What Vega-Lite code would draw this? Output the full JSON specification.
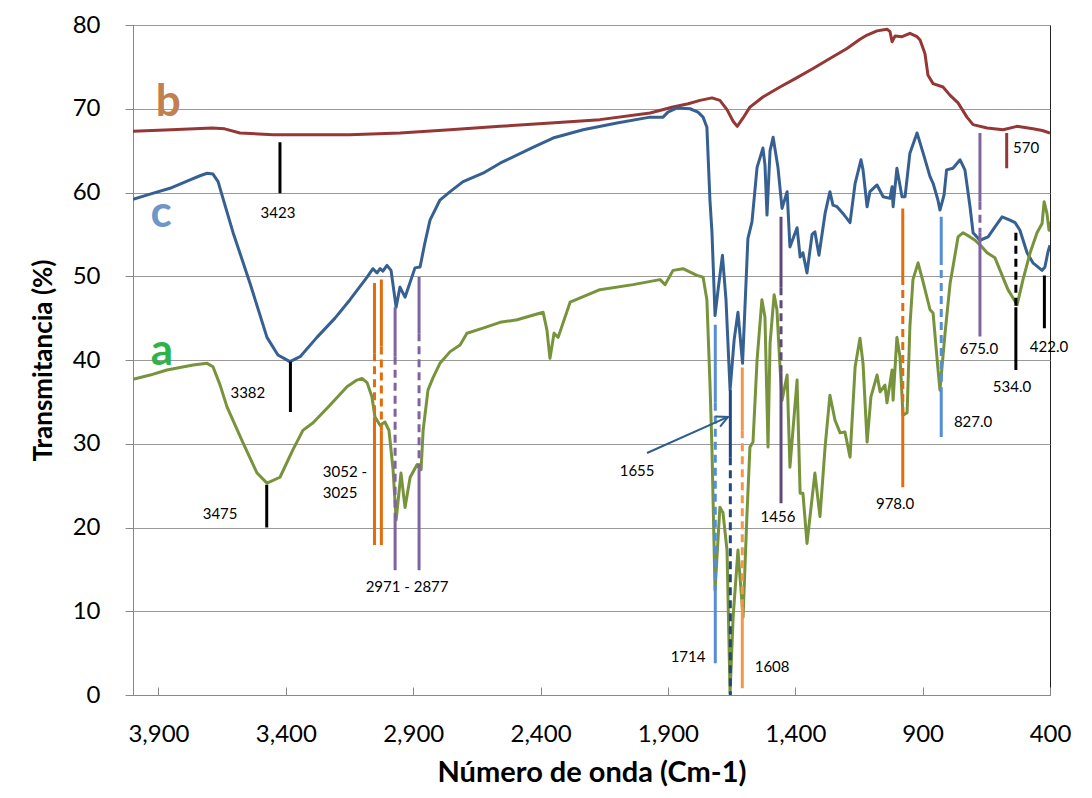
{
  "$schema": "https://vega.github.io/schema/vega-lite/v6.json",
  "width": 917,
  "height": 670,
  "autosize": {"type": "none"},
  "padding": {"left": 133, "top": 25, "right": 42, "bottom": 103},
  "background": "white",
  "config": {
    "font": "Lato",
    "view": {"stroke": "#222222", "strokeWidth": 1}
  },
  "datasets": {
    "espectros": [
      {"serie": "b", "numero_onda": 4000, "transmitancia": 67.3},
      {"serie": "b", "numero_onda": 3850, "transmitancia": 67.5},
      {"serie": "b", "numero_onda": 3690, "transmitancia": 67.7},
      {"serie": "b", "numero_onda": 3640, "transmitancia": 67.6},
      {"serie": "b", "numero_onda": 3580, "transmitancia": 67.1},
      {"serie": "b", "numero_onda": 3450, "transmitancia": 66.9},
      {"serie": "b", "numero_onda": 3150, "transmitancia": 66.9},
      {"serie": "b", "numero_onda": 2952, "transmitancia": 67.1},
      {"serie": "b", "numero_onda": 2755, "transmitancia": 67.5},
      {"serie": "b", "numero_onda": 2559, "transmitancia": 67.9},
      {"serie": "b", "numero_onda": 2360, "transmitancia": 68.3},
      {"serie": "b", "numero_onda": 2167, "transmitancia": 68.7},
      {"serie": "b", "numero_onda": 1970, "transmitancia": 69.5},
      {"serie": "b", "numero_onda": 1880, "transmitancia": 70.2},
      {"serie": "b", "numero_onda": 1820, "transmitancia": 70.6},
      {"serie": "b", "numero_onda": 1774, "transmitancia": 71.0},
      {"serie": "b", "numero_onda": 1727, "transmitancia": 71.3},
      {"serie": "b", "numero_onda": 1696, "transmitancia": 71.0},
      {"serie": "b", "numero_onda": 1668, "transmitancia": 69.9},
      {"serie": "b", "numero_onda": 1644, "transmitancia": 68.5},
      {"serie": "b", "numero_onda": 1628, "transmitancia": 67.9},
      {"serie": "b", "numero_onda": 1605, "transmitancia": 68.9},
      {"serie": "b", "numero_onda": 1578, "transmitancia": 70.2},
      {"serie": "b", "numero_onda": 1527, "transmitancia": 71.4},
      {"serie": "b", "numero_onda": 1460, "transmitancia": 72.6},
      {"serie": "b", "numero_onda": 1400, "transmitancia": 73.6},
      {"serie": "b", "numero_onda": 1330, "transmitancia": 74.8},
      {"serie": "b", "numero_onda": 1264, "transmitancia": 76.0},
      {"serie": "b", "numero_onda": 1197, "transmitancia": 77.2},
      {"serie": "b", "numero_onda": 1146, "transmitancia": 78.3},
      {"serie": "b", "numero_onda": 1118, "transmitancia": 78.8},
      {"serie": "b", "numero_onda": 1079, "transmitancia": 79.3},
      {"serie": "b", "numero_onda": 1040, "transmitancia": 79.5},
      {"serie": "b", "numero_onda": 1028, "transmitancia": 79.2},
      {"serie": "b", "numero_onda": 1020, "transmitancia": 78.0},
      {"serie": "b", "numero_onda": 1008, "transmitancia": 78.7},
      {"serie": "b", "numero_onda": 981, "transmitancia": 78.6},
      {"serie": "b", "numero_onda": 950, "transmitancia": 79.0},
      {"serie": "b", "numero_onda": 922, "transmitancia": 78.6},
      {"serie": "b", "numero_onda": 910, "transmitancia": 78.2},
      {"serie": "b", "numero_onda": 891, "transmitancia": 76.6},
      {"serie": "b", "numero_onda": 879, "transmitancia": 74.0},
      {"serie": "b", "numero_onda": 859, "transmitancia": 73.0},
      {"serie": "b", "numero_onda": 820, "transmitancia": 72.6},
      {"serie": "b", "numero_onda": 792, "transmitancia": 71.6},
      {"serie": "b", "numero_onda": 761, "transmitancia": 70.7},
      {"serie": "b", "numero_onda": 726, "transmitancia": 69.0},
      {"serie": "b", "numero_onda": 702, "transmitancia": 68.1},
      {"serie": "b", "numero_onda": 647, "transmitancia": 67.7},
      {"serie": "b", "numero_onda": 584, "transmitancia": 67.5},
      {"serie": "b", "numero_onda": 530, "transmitancia": 67.9},
      {"serie": "b", "numero_onda": 467, "transmitancia": 67.6},
      {"serie": "b", "numero_onda": 430, "transmitancia": 67.4},
      {"serie": "b", "numero_onda": 400, "transmitancia": 67.1},

      {"serie": "c", "numero_onda": 4000, "transmitancia": 59.2},
      {"serie": "c", "numero_onda": 3933, "transmitancia": 59.8},
      {"serie": "c", "numero_onda": 3855, "transmitancia": 60.5},
      {"serie": "c", "numero_onda": 3776, "transmitancia": 61.5},
      {"serie": "c", "numero_onda": 3737, "transmitancia": 62.0},
      {"serie": "c", "numero_onda": 3709, "transmitancia": 62.3},
      {"serie": "c", "numero_onda": 3686, "transmitancia": 62.2},
      {"serie": "c", "numero_onda": 3666, "transmitancia": 61.3},
      {"serie": "c", "numero_onda": 3639, "transmitancia": 58.5},
      {"serie": "c", "numero_onda": 3607, "transmitancia": 55.2},
      {"serie": "c", "numero_onda": 3541, "transmitancia": 49.2},
      {"serie": "c", "numero_onda": 3474, "transmitancia": 42.7},
      {"serie": "c", "numero_onda": 3431, "transmitancia": 40.6},
      {"serie": "c", "numero_onda": 3384, "transmitancia": 39.8},
      {"serie": "c", "numero_onda": 3344, "transmitancia": 40.4},
      {"serie": "c", "numero_onda": 3278, "transmitancia": 42.7},
      {"serie": "c", "numero_onda": 3207, "transmitancia": 45.0},
      {"serie": "c", "numero_onda": 3148, "transmitancia": 47.2},
      {"serie": "c", "numero_onda": 3081, "transmitancia": 49.9},
      {"serie": "c", "numero_onda": 3058, "transmitancia": 50.9},
      {"serie": "c", "numero_onda": 3042, "transmitancia": 50.4},
      {"serie": "c", "numero_onda": 3030, "transmitancia": 50.9},
      {"serie": "c", "numero_onda": 3019, "transmitancia": 50.6},
      {"serie": "c", "numero_onda": 3003, "transmitancia": 51.3},
      {"serie": "c", "numero_onda": 2987, "transmitancia": 50.7},
      {"serie": "c", "numero_onda": 2967, "transmitancia": 46.3},
      {"serie": "c", "numero_onda": 2952, "transmitancia": 48.7},
      {"serie": "c", "numero_onda": 2932, "transmitancia": 47.5},
      {"serie": "c", "numero_onda": 2893, "transmitancia": 51.0},
      {"serie": "c", "numero_onda": 2873, "transmitancia": 51.1},
      {"serie": "c", "numero_onda": 2854, "transmitancia": 54.0},
      {"serie": "c", "numero_onda": 2834, "transmitancia": 56.7},
      {"serie": "c", "numero_onda": 2795, "transmitancia": 59.1},
      {"serie": "c", "numero_onda": 2755, "transmitancia": 60.1},
      {"serie": "c", "numero_onda": 2704, "transmitancia": 61.3},
      {"serie": "c", "numero_onda": 2626, "transmitancia": 62.3},
      {"serie": "c", "numero_onda": 2559, "transmitancia": 63.5},
      {"serie": "c", "numero_onda": 2430, "transmitancia": 65.4},
      {"serie": "c", "numero_onda": 2351, "transmitancia": 66.5},
      {"serie": "c", "numero_onda": 2233, "transmitancia": 67.5},
      {"serie": "c", "numero_onda": 2100, "transmitancia": 68.3},
      {"serie": "c", "numero_onda": 1970, "transmitancia": 69.0},
      {"serie": "c", "numero_onda": 1919, "transmitancia": 69.0},
      {"serie": "c", "numero_onda": 1900, "transmitancia": 69.6},
      {"serie": "c", "numero_onda": 1864, "transmitancia": 70.1},
      {"serie": "c", "numero_onda": 1813, "transmitancia": 70.0},
      {"serie": "c", "numero_onda": 1782, "transmitancia": 69.6},
      {"serie": "c", "numero_onda": 1762, "transmitancia": 69.0},
      {"serie": "c", "numero_onda": 1747, "transmitancia": 67.8},
      {"serie": "c", "numero_onda": 1735, "transmitancia": 59.1},
      {"serie": "c", "numero_onda": 1727, "transmitancia": 55.2},
      {"serie": "c", "numero_onda": 1715, "transmitancia": 45.3},
      {"serie": "c", "numero_onda": 1703, "transmitancia": 48.4},
      {"serie": "c", "numero_onda": 1686, "transmitancia": 52.5},
      {"serie": "c", "numero_onda": 1672, "transmitancia": 47.2},
      {"serie": "c", "numero_onda": 1656, "transmitancia": 36.4},
      {"serie": "c", "numero_onda": 1640, "transmitancia": 42.4},
      {"serie": "c", "numero_onda": 1625, "transmitancia": 45.7},
      {"serie": "c", "numero_onda": 1607, "transmitancia": 39.6},
      {"serie": "c", "numero_onda": 1586, "transmitancia": 54.5},
      {"serie": "c", "numero_onda": 1570, "transmitancia": 56.5},
      {"serie": "c", "numero_onda": 1550, "transmitancia": 63.0},
      {"serie": "c", "numero_onda": 1527, "transmitancia": 65.3},
      {"serie": "c", "numero_onda": 1519, "transmitancia": 63.3},
      {"serie": "c", "numero_onda": 1511, "transmitancia": 57.3},
      {"serie": "c", "numero_onda": 1499, "transmitancia": 65.0},
      {"serie": "c", "numero_onda": 1487, "transmitancia": 66.6},
      {"serie": "c", "numero_onda": 1468, "transmitancia": 63.0},
      {"serie": "c", "numero_onda": 1452, "transmitancia": 58.1},
      {"serie": "c", "numero_onda": 1432, "transmitancia": 60.1},
      {"serie": "c", "numero_onda": 1421, "transmitancia": 53.5},
      {"serie": "c", "numero_onda": 1393, "transmitancia": 55.8},
      {"serie": "c", "numero_onda": 1381, "transmitancia": 52.3},
      {"serie": "c", "numero_onda": 1370, "transmitancia": 52.8},
      {"serie": "c", "numero_onda": 1354, "transmitancia": 50.4},
      {"serie": "c", "numero_onda": 1334, "transmitancia": 55.0},
      {"serie": "c", "numero_onda": 1323, "transmitancia": 55.3},
      {"serie": "c", "numero_onda": 1307, "transmitancia": 52.5},
      {"serie": "c", "numero_onda": 1283, "transmitancia": 57.5},
      {"serie": "c", "numero_onda": 1264, "transmitancia": 60.1},
      {"serie": "c", "numero_onda": 1252, "transmitancia": 58.5},
      {"serie": "c", "numero_onda": 1236, "transmitancia": 58.3},
      {"serie": "c", "numero_onda": 1213, "transmitancia": 57.5},
      {"serie": "c", "numero_onda": 1185, "transmitancia": 56.4},
      {"serie": "c", "numero_onda": 1165, "transmitancia": 61.1},
      {"serie": "c", "numero_onda": 1142, "transmitancia": 63.9},
      {"serie": "c", "numero_onda": 1134, "transmitancia": 62.7},
      {"serie": "c", "numero_onda": 1118, "transmitancia": 58.3},
      {"serie": "c", "numero_onda": 1107, "transmitancia": 60.1},
      {"serie": "c", "numero_onda": 1079, "transmitancia": 60.9},
      {"serie": "c", "numero_onda": 1055, "transmitancia": 59.5},
      {"serie": "c", "numero_onda": 1028, "transmitancia": 59.3},
      {"serie": "c", "numero_onda": 1020, "transmitancia": 60.7},
      {"serie": "c", "numero_onda": 1016, "transmitancia": 58.3},
      {"serie": "c", "numero_onda": 1001, "transmitancia": 62.9},
      {"serie": "c", "numero_onda": 981, "transmitancia": 59.5},
      {"serie": "c", "numero_onda": 969, "transmitancia": 59.5},
      {"serie": "c", "numero_onda": 950, "transmitancia": 64.7},
      {"serie": "c", "numero_onda": 922, "transmitancia": 67.1},
      {"serie": "c", "numero_onda": 898, "transmitancia": 64.7},
      {"serie": "c", "numero_onda": 871, "transmitancia": 61.9},
      {"serie": "c", "numero_onda": 859, "transmitancia": 61.1},
      {"serie": "c", "numero_onda": 840, "transmitancia": 59.1},
      {"serie": "c", "numero_onda": 832, "transmitancia": 57.9},
      {"serie": "c", "numero_onda": 816, "transmitancia": 59.7},
      {"serie": "c", "numero_onda": 806, "transmitancia": 62.7},
      {"serie": "c", "numero_onda": 781, "transmitancia": 62.9},
      {"serie": "c", "numero_onda": 753, "transmitancia": 63.9},
      {"serie": "c", "numero_onda": 734, "transmitancia": 62.7},
      {"serie": "c", "numero_onda": 714, "transmitancia": 58.3},
      {"serie": "c", "numero_onda": 702, "transmitancia": 55.2},
      {"serie": "c", "numero_onda": 675, "transmitancia": 54.3},
      {"serie": "c", "numero_onda": 643, "transmitancia": 54.7},
      {"serie": "c", "numero_onda": 616, "transmitancia": 55.9},
      {"serie": "c", "numero_onda": 588, "transmitancia": 57.1},
      {"serie": "c", "numero_onda": 557, "transmitancia": 56.7},
      {"serie": "c", "numero_onda": 537, "transmitancia": 56.4},
      {"serie": "c", "numero_onda": 518, "transmitancia": 55.5},
      {"serie": "c", "numero_onda": 490, "transmitancia": 52.8},
      {"serie": "c", "numero_onda": 467, "transmitancia": 51.6},
      {"serie": "c", "numero_onda": 431, "transmitancia": 50.7},
      {"serie": "c", "numero_onda": 420, "transmitancia": 51.1},
      {"serie": "c", "numero_onda": 408, "transmitancia": 52.9},
      {"serie": "c", "numero_onda": 400, "transmitancia": 53.7},

      {"serie": "a", "numero_onda": 4000, "transmitancia": 37.7},
      {"serie": "a", "numero_onda": 3933, "transmitancia": 38.2},
      {"serie": "a", "numero_onda": 3867, "transmitancia": 38.8},
      {"serie": "a", "numero_onda": 3764, "transmitancia": 39.4},
      {"serie": "a", "numero_onda": 3709, "transmitancia": 39.6},
      {"serie": "a", "numero_onda": 3686, "transmitancia": 39.2},
      {"serie": "a", "numero_onda": 3658, "transmitancia": 37.0},
      {"serie": "a", "numero_onda": 3631, "transmitancia": 34.4},
      {"serie": "a", "numero_onda": 3568, "transmitancia": 30.1},
      {"serie": "a", "numero_onda": 3513, "transmitancia": 26.5},
      {"serie": "a", "numero_onda": 3474, "transmitancia": 25.3},
      {"serie": "a", "numero_onda": 3423, "transmitancia": 26.0},
      {"serie": "a", "numero_onda": 3372, "transmitancia": 29.3},
      {"serie": "a", "numero_onda": 3333, "transmitancia": 31.6},
      {"serie": "a", "numero_onda": 3293, "transmitancia": 32.5},
      {"serie": "a", "numero_onda": 3227, "transmitancia": 34.6},
      {"serie": "a", "numero_onda": 3160, "transmitancia": 36.8},
      {"serie": "a", "numero_onda": 3121, "transmitancia": 37.6},
      {"serie": "a", "numero_onda": 3101, "transmitancia": 37.8},
      {"serie": "a", "numero_onda": 3081, "transmitancia": 37.3},
      {"serie": "a", "numero_onda": 3062, "transmitancia": 35.6},
      {"serie": "a", "numero_onda": 3050, "transmitancia": 33.2},
      {"serie": "a", "numero_onda": 3030, "transmitancia": 32.2},
      {"serie": "a", "numero_onda": 3011, "transmitancia": 32.6},
      {"serie": "a", "numero_onda": 2995, "transmitancia": 31.6},
      {"serie": "a", "numero_onda": 2979, "transmitancia": 26.9},
      {"serie": "a", "numero_onda": 2967, "transmitancia": 20.9},
      {"serie": "a", "numero_onda": 2948, "transmitancia": 26.5},
      {"serie": "a", "numero_onda": 2932, "transmitancia": 22.4},
      {"serie": "a", "numero_onda": 2912, "transmitancia": 26.0},
      {"serie": "a", "numero_onda": 2885, "transmitancia": 27.5},
      {"serie": "a", "numero_onda": 2869, "transmitancia": 26.9},
      {"serie": "a", "numero_onda": 2861, "transmitancia": 31.6},
      {"serie": "a", "numero_onda": 2842, "transmitancia": 36.4},
      {"serie": "a", "numero_onda": 2822, "transmitancia": 37.9},
      {"serie": "a", "numero_onda": 2795, "transmitancia": 39.6},
      {"serie": "a", "numero_onda": 2755, "transmitancia": 41.0},
      {"serie": "a", "numero_onda": 2716, "transmitancia": 41.8},
      {"serie": "a", "numero_onda": 2689, "transmitancia": 43.2},
      {"serie": "a", "numero_onda": 2626, "transmitancia": 43.8},
      {"serie": "a", "numero_onda": 2559, "transmitancia": 44.5},
      {"serie": "a", "numero_onda": 2492, "transmitancia": 44.8},
      {"serie": "a", "numero_onda": 2390, "transmitancia": 45.7},
      {"serie": "a", "numero_onda": 2375, "transmitancia": 43.6},
      {"serie": "a", "numero_onda": 2363, "transmitancia": 40.2},
      {"serie": "a", "numero_onda": 2347, "transmitancia": 43.2},
      {"serie": "a", "numero_onda": 2331, "transmitancia": 42.7},
      {"serie": "a", "numero_onda": 2284, "transmitancia": 46.9},
      {"serie": "a", "numero_onda": 2167, "transmitancia": 48.4},
      {"serie": "a", "numero_onda": 2037, "transmitancia": 49.0},
      {"serie": "a", "numero_onda": 1931, "transmitancia": 49.6},
      {"serie": "a", "numero_onda": 1911, "transmitancia": 49.0},
      {"serie": "a", "numero_onda": 1880, "transmitancia": 50.7},
      {"serie": "a", "numero_onda": 1841, "transmitancia": 50.9},
      {"serie": "a", "numero_onda": 1786, "transmitancia": 50.1},
      {"serie": "a", "numero_onda": 1762, "transmitancia": 49.9},
      {"serie": "a", "numero_onda": 1747, "transmitancia": 47.2},
      {"serie": "a", "numero_onda": 1735, "transmitancia": 37.3},
      {"serie": "a", "numero_onda": 1727, "transmitancia": 29.3},
      {"serie": "a", "numero_onda": 1715, "transmitancia": 12.5},
      {"serie": "a", "numero_onda": 1696, "transmitancia": 22.4},
      {"serie": "a", "numero_onda": 1684, "transmitancia": 21.8},
      {"serie": "a", "numero_onda": 1668, "transmitancia": 17.3},
      {"serie": "a", "numero_onda": 1656, "transmitancia": 0.2},
      {"serie": "a", "numero_onda": 1644, "transmitancia": 9.3},
      {"serie": "a", "numero_onda": 1625, "transmitancia": 17.3},
      {"serie": "a", "numero_onda": 1605, "transmitancia": 9.3},
      {"serie": "a", "numero_onda": 1590, "transmitancia": 21.3},
      {"serie": "a", "numero_onda": 1578, "transmitancia": 29.6},
      {"serie": "a", "numero_onda": 1566, "transmitancia": 30.2},
      {"serie": "a", "numero_onda": 1550, "transmitancia": 40.0},
      {"serie": "a", "numero_onda": 1531, "transmitancia": 47.2},
      {"serie": "a", "numero_onda": 1519, "transmitancia": 45.1},
      {"serie": "a", "numero_onda": 1507, "transmitancia": 29.6},
      {"serie": "a", "numero_onda": 1499, "transmitancia": 42.0},
      {"serie": "a", "numero_onda": 1483, "transmitancia": 47.8},
      {"serie": "a", "numero_onda": 1472, "transmitancia": 46.0},
      {"serie": "a", "numero_onda": 1460, "transmitancia": 39.2},
      {"serie": "a", "numero_onda": 1452, "transmitancia": 35.2},
      {"serie": "a", "numero_onda": 1432, "transmitancia": 38.2},
      {"serie": "a", "numero_onda": 1421, "transmitancia": 27.2},
      {"serie": "a", "numero_onda": 1393, "transmitancia": 37.6},
      {"serie": "a", "numero_onda": 1381, "transmitancia": 24.1},
      {"serie": "a", "numero_onda": 1370, "transmitancia": 24.1},
      {"serie": "a", "numero_onda": 1354, "transmitancia": 18.1},
      {"serie": "a", "numero_onda": 1323, "transmitancia": 26.5},
      {"serie": "a", "numero_onda": 1303, "transmitancia": 21.3},
      {"serie": "a", "numero_onda": 1283, "transmitancia": 29.6},
      {"serie": "a", "numero_onda": 1264, "transmitancia": 35.8},
      {"serie": "a", "numero_onda": 1244, "transmitancia": 32.8},
      {"serie": "a", "numero_onda": 1224, "transmitancia": 31.3},
      {"serie": "a", "numero_onda": 1205, "transmitancia": 31.4},
      {"serie": "a", "numero_onda": 1185, "transmitancia": 28.4},
      {"serie": "a", "numero_onda": 1165, "transmitancia": 39.2},
      {"serie": "a", "numero_onda": 1146, "transmitancia": 42.6},
      {"serie": "a", "numero_onda": 1134, "transmitancia": 39.6},
      {"serie": "a", "numero_onda": 1118, "transmitancia": 30.2},
      {"serie": "a", "numero_onda": 1103, "transmitancia": 35.6},
      {"serie": "a", "numero_onda": 1079, "transmitancia": 38.2},
      {"serie": "a", "numero_onda": 1067, "transmitancia": 36.2},
      {"serie": "a", "numero_onda": 1048, "transmitancia": 37.0},
      {"serie": "a", "numero_onda": 1040, "transmitancia": 34.9},
      {"serie": "a", "numero_onda": 1020, "transmitancia": 38.8},
      {"serie": "a", "numero_onda": 1016, "transmitancia": 35.2},
      {"serie": "a", "numero_onda": 1001, "transmitancia": 42.7},
      {"serie": "a", "numero_onda": 989, "transmitancia": 40.4},
      {"serie": "a", "numero_onda": 977, "transmitancia": 33.4},
      {"serie": "a", "numero_onda": 961, "transmitancia": 33.7},
      {"serie": "a", "numero_onda": 950, "transmitancia": 44.0},
      {"serie": "a", "numero_onda": 938, "transmitancia": 49.6},
      {"serie": "a", "numero_onda": 918, "transmitancia": 51.6},
      {"serie": "a", "numero_onda": 898, "transmitancia": 49.3},
      {"serie": "a", "numero_onda": 871, "transmitancia": 46.0},
      {"serie": "a", "numero_onda": 859, "transmitancia": 45.6},
      {"serie": "a", "numero_onda": 840, "transmitancia": 39.0},
      {"serie": "a", "numero_onda": 832, "transmitancia": 36.4},
      {"serie": "a", "numero_onda": 812, "transmitancia": 43.2},
      {"serie": "a", "numero_onda": 792, "transmitancia": 49.2},
      {"serie": "a", "numero_onda": 781, "transmitancia": 51.1},
      {"serie": "a", "numero_onda": 761, "transmitancia": 54.7},
      {"serie": "a", "numero_onda": 741, "transmitancia": 55.2},
      {"serie": "a", "numero_onda": 714, "transmitancia": 54.7},
      {"serie": "a", "numero_onda": 694, "transmitancia": 54.3},
      {"serie": "a", "numero_onda": 667, "transmitancia": 53.5},
      {"serie": "a", "numero_onda": 647, "transmitancia": 52.8},
      {"serie": "a", "numero_onda": 616, "transmitancia": 52.2},
      {"serie": "a", "numero_onda": 596, "transmitancia": 50.7},
      {"serie": "a", "numero_onda": 565, "transmitancia": 48.4},
      {"serie": "a", "numero_onda": 529, "transmitancia": 46.6},
      {"serie": "a", "numero_onda": 506, "transmitancia": 49.6},
      {"serie": "a", "numero_onda": 478, "transmitancia": 52.8},
      {"serie": "a", "numero_onda": 451, "transmitancia": 55.2},
      {"serie": "a", "numero_onda": 431, "transmitancia": 56.3},
      {"serie": "a", "numero_onda": 423, "transmitancia": 58.9},
      {"serie": "a", "numero_onda": 412, "transmitancia": 57.5},
      {"serie": "a", "numero_onda": 404, "transmitancia": 55.5},
      {"serie": "a", "numero_onda": 400, "transmitancia": 56.5}
    ],
    "marcas": [
      {"banda": 3423, "desde": 66.0, "hasta": 59.9, "grupo": "negro", "trazo": "continuo"},
      {"banda": 3382, "desde": 39.8, "hasta": 33.8, "grupo": "negro", "trazo": "continuo"},
      {"banda": 3475, "desde": 25.1, "hasta": 20.0, "grupo": "negro", "trazo": "continuo"},
      {"banda": 534, "desde": 55.2, "hasta": 46.3, "grupo": "negro", "trazo": "discontinuo"},
      {"banda": 534, "desde": 46.3, "hasta": 38.8, "grupo": "negro", "trazo": "continuo"},
      {"banda": 422, "desde": 50.1, "hasta": 43.8, "grupo": "negro", "trazo": "continuo"},
      {"banda": 3052, "desde": 49.2, "hasta": 40.8, "grupo": "naranja", "trazo": "continuo"},
      {"banda": 3052, "desde": 40.8, "hasta": 33.2, "grupo": "naranja", "trazo": "discontinuo"},
      {"banda": 3052, "desde": 33.2, "hasta": 17.9, "grupo": "naranja", "trazo": "continuo"},
      {"banda": 3025, "desde": 49.6, "hasta": 41.6, "grupo": "naranja", "trazo": "continuo"},
      {"banda": 3025, "desde": 41.6, "hasta": 31.6, "grupo": "naranja", "trazo": "discontinuo"},
      {"banda": 3025, "desde": 31.6, "hasta": 17.9, "grupo": "naranja", "trazo": "continuo"},
      {"banda": 978, "desde": 58.1, "hasta": 49.9, "grupo": "naranja", "trazo": "continuo"},
      {"banda": 978, "desde": 49.9, "hasta": 33.7, "grupo": "naranja", "trazo": "discontinuo"},
      {"banda": 978, "desde": 33.7, "hasta": 24.8, "grupo": "naranja", "trazo": "continuo"},
      {"banda": 2971, "desde": 46.3, "hasta": 40.4, "grupo": "morado", "trazo": "continuo"},
      {"banda": 2971, "desde": 40.4, "hasta": 20.9, "grupo": "morado", "trazo": "discontinuo"},
      {"banda": 2971, "desde": 20.9, "hasta": 14.9, "grupo": "morado", "trazo": "continuo"},
      {"banda": 2877, "desde": 49.9, "hasta": 43.2, "grupo": "morado", "trazo": "continuo"},
      {"banda": 2877, "desde": 43.2, "hasta": 26.9, "grupo": "morado", "trazo": "discontinuo"},
      {"banda": 2877, "desde": 26.9, "hasta": 14.9, "grupo": "morado", "trazo": "continuo"},
      {"banda": 675, "desde": 67.1, "hasta": 58.9, "grupo": "morado", "trazo": "continuo"},
      {"banda": 675, "desde": 58.9, "hasta": 55.2, "grupo": "morado", "trazo": "discontinuo"},
      {"banda": 675, "desde": 55.2, "hasta": 42.8, "grupo": "morado", "trazo": "continuo"},
      {"banda": 1456, "desde": 57.1, "hasta": 48.7, "grupo": "morado oscuro", "trazo": "continuo"},
      {"banda": 1456, "desde": 48.7, "hasta": 38.5, "grupo": "morado oscuro", "trazo": "discontinuo"},
      {"banda": 1456, "desde": 38.5, "hasta": 22.9, "grupo": "morado oscuro", "trazo": "continuo"},
      {"banda": 1714, "desde": 44.2, "hasta": 34.9, "grupo": "azul claro", "trazo": "continuo"},
      {"banda": 1714, "desde": 34.9, "hasta": 12.5, "grupo": "azul claro", "trazo": "discontinuo"},
      {"banda": 1714, "desde": 12.5, "hasta": 3.8, "grupo": "azul claro", "trazo": "continuo"},
      {"banda": 827, "desde": 57.1, "hasta": 52.3, "grupo": "azul claro", "trazo": "continuo"},
      {"banda": 827, "desde": 52.3, "hasta": 36.7, "grupo": "azul claro", "trazo": "discontinuo"},
      {"banda": 827, "desde": 36.7, "hasta": 30.8, "grupo": "azul claro", "trazo": "continuo"},
      {"banda": 1655, "desde": 36.4, "hasta": 28.4, "grupo": "azul oscuro", "trazo": "continuo"},
      {"banda": 1655, "desde": 28.4, "hasta": 0.0, "grupo": "azul oscuro", "trazo": "discontinuo"},
      {"banda": 1608, "desde": 39.1, "hasta": 31.6, "grupo": "naranja claro", "trazo": "continuo"},
      {"banda": 1608, "desde": 31.6, "hasta": 10.7, "grupo": "naranja claro", "trazo": "discontinuo"},
      {"banda": 1608, "desde": 10.7, "hasta": 0.8, "grupo": "naranja claro", "trazo": "continuo"},
      {"banda": 570, "desde": 67.1, "hasta": 62.9, "grupo": "rojo", "trazo": "continuo"}
    ],
    "etiquetas": [
      {"x": 3431, "y": 57.6, "texto": "3423"},
      {"x": 3549, "y": 36.1, "texto": "3382"},
      {"x": 3658, "y": 21.6, "texto": "3475"},
      {"x": 3168, "y": 26.6, "texto": "3052 -"},
      {"x": 3187, "y": 24.1, "texto": "3025"},
      {"x": 2924, "y": 12.9, "texto": "2971 - 2877"},
      {"x": 2021, "y": 26.7, "texto": "1655"},
      {"x": 1821, "y": 4.5, "texto": "1714"},
      {"x": 1491, "y": 3.3, "texto": "1608"},
      {"x": 1468, "y": 21.3, "texto": "1456"},
      {"x": 1008, "y": 22.8, "texto": "978.0"},
      {"x": 702, "y": 32.6, "texto": "827.0"},
      {"x": 679, "y": 41.3, "texto": "675.0"},
      {"x": 494, "y": 65.3, "texto": "570"},
      {"x": 549, "y": 36.8, "texto": "534.0"},
      {"x": 404, "y": 41.6, "texto": "422.0"}
    ],
    "letras": [
      {"x": 3862, "y": 70.7, "serie": "b"},
      {"x": 3890, "y": 57.4, "serie": "c"},
      {"x": 3886, "y": 41.0, "serie": "a"}
    ],
    "flecha": [
      {"x": 1982, "y": 28.9, "x2": 1664, "y2": 33.2}
    ]
  },
  "layer": [
    {
      "data": {"name": "espectros"},
      "mark": {"type": "line", "strokeWidth": 3, "strokeJoin": "round", "clip": true},
      "encoding": {
        "x": {
          "field": "numero_onda", "type": "quantitative",
          "scale": {"domain": [400, 4000], "reverse": true, "nice": false, "zero": false},
          "axis": {
            "values": [3900, 3400, 2900, 2400, 1900, 1400, 900, 400],
            "format": ",.0f",
            "title": "Número de onda (Cm-1)",
            "titleFontSize": 29, "titleFontWeight": "bold", "titleColor": "#000000",
            "titlePadding": 12,
            "labelFontSize": 24, "labelColor": "#000000",
            "labelPadding": 35, "tickSize": -8,
            "tickColor": "#888888", "domainColor": "#888888",
            "grid": false, "labelFlush": false, "labelOverlap": false
          }
        },
        "y": {
          "field": "transmitancia", "type": "quantitative",
          "scale": {"domain": [0, 80], "nice": false},
          "axis": {
            "values": [0, 10, 20, 30, 40, 50, 60, 70, 80],
            "title": "Transmitancia (%)",
            "titleFontSize": 26, "titleFontWeight": "bold", "titleColor": "#000000",
            "titlePadding": 16,
            "labelFontSize": 24, "labelColor": "#000000",
            "labelPadding": 25, "tickSize": 8,
            "tickColor": "#888888", "domainColor": "#888888",
            "grid": true, "gridColor": "#9a9a9a", "gridWidth": 1
          }
        },
        "color": {
          "field": "serie", "type": "nominal",
          "scale": {"domain": ["b", "c", "a"], "range": ["#953735", "#376092", "#77933C"]},
          "legend": null
        },
        "order": {"field": "numero_onda", "type": "quantitative"}
      }
    },
    {
      "data": {"name": "marcas"},
      "mark": {"type": "rule", "strokeWidth": 3, "strokeCap": "butt"},
      "encoding": {
        "x": {"field": "banda", "type": "quantitative"},
        "y": {"field": "desde", "type": "quantitative"},
        "y2": {"field": "hasta"},
        "color": {
          "field": "grupo", "type": "nominal",
          "scale": {
            "domain": ["negro", "naranja", "naranja claro", "morado", "morado oscuro", "azul claro", "azul oscuro", "rojo"],
            "range": ["#000000", "#E46C0A", "#F79646", "#8064A2", "#5F497A", "#558ED5", "#1F497D", "#953735"]
          },
          "legend": null
        },
        "strokeDash": {
          "field": "trazo", "type": "nominal",
          "scale": {"domain": ["continuo", "discontinuo"], "range": [[1, 0], [8, 5]]},
          "legend": null
        }
      }
    },
    {
      "data": {"name": "flecha"},
      "mark": {"type": "rule", "strokeWidth": 2, "color": "#2E5E8E"},
      "encoding": {
        "x": {"field": "x", "type": "quantitative"},
        "y": {"field": "y", "type": "quantitative"},
        "x2": {"field": "x2"},
        "y2": {"field": "y2"}
      }
    },
    {
      "data": {"name": "flecha"},
      "mark": {"type": "point", "shape": "M-0.5,1L0,0L0.5,1", "filled": false, "size": 500, "strokeWidth": 2, "angle": 66, "color": "#2E5E8E", "opacity": 1},
      "encoding": {
        "x": {"field": "x2", "type": "quantitative"},
        "y": {"field": "y2", "type": "quantitative"}
      }
    },
    {
      "data": {"name": "etiquetas"},
      "mark": {"type": "text", "fontSize": 15, "font": "Lato", "color": "#000000", "align": "center", "baseline": "middle"},
      "encoding": {
        "x": {"field": "x", "type": "quantitative"},
        "y": {"field": "y", "type": "quantitative"},
        "text": {"field": "texto", "type": "nominal"}
      }
    },
    {
      "data": {"name": "letras"},
      "mark": {"type": "text", "fontSize": 44, "fontWeight": "bold", "font": "Lato", "align": "center", "baseline": "middle"},
      "encoding": {
        "x": {"field": "x", "type": "quantitative"},
        "y": {"field": "y", "type": "quantitative"},
        "text": {"field": "serie", "type": "nominal"},
        "color": {
          "field": "serie", "type": "nominal",
          "scale": {"domain": ["b", "c", "a"], "range": ["#C0804F", "#7096C8", "#2DB34A"]},
          "legend": null
        }
      }
    }
  ],
  "resolve": {"scale": {"color": "independent", "strokeDash": "independent"}}
}
